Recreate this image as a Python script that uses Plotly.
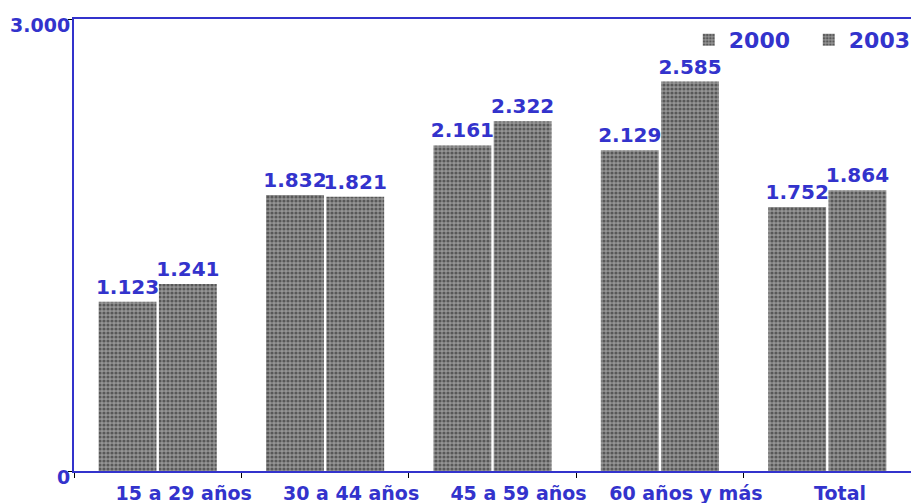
import plotly.graph_objects as go

categories = ["15 a 29 años", "30 a 44 años", "45 a 59 años", "60 años y más", "Total"]
values_2000 = [1123, 1832, 2161, 2129, 1752]
values_2003 = [1241, 1821, 2322, 2585, 1864]
labels_2000 = ["1.123", "1.832", "2.161", "2.129", "1.752"]
labels_2003 = ["1.241", "1.821", "2.322", "2.585", "1.864"]
tick_labels = ["15 a 29 años", "30 a 44 años", "45 a 59 años", "60 años y más",
               "Total&nbsp;&nbsp;&nbsp;&nbsp;"]

BLUE = "#3333CC"
FONT = "DejaVu Sans"

pattern = dict(shape=".", fgcolor="#1c1c1c", bgcolor="#959595", size=4, solidity=0.5)

fig = go.Figure()
for name, vals, labs in [("2000", values_2000, labels_2000), ("2003", values_2003, labels_2003)]:
    fig.add_bar(name=f"<b>{name}</b>", x=categories, y=vals, text=labs,
                texttemplate="<b>%{text}</b>", textposition="outside",
                constraintext="none",
                textfont=dict(family=FONT, size=20, color=BLUE),
                marker=dict(color="#959595", pattern=pattern, line=dict(width=0)),
                cliponaxis=False)

fig.update_layout(
    width=911, height=503,
    margin=dict(l=74, r=0, t=19, b=32, autoexpand=False),
    paper_bgcolor="white", plot_bgcolor="white",
    barmode="group", bargap=0.28, bargroupgap=0.04,
    font=dict(family=FONT, color=BLUE),
    showlegend=True,
    legend=dict(orientation="h", x=0.7345, y=0.9535, xanchor="left", yanchor="middle",
                font=dict(family=FONT, size=22, color=BLUE),
                entrywidth=75, itemwidth=30, bgcolor="rgba(0,0,0,0)"),
)
fig.update_xaxes(showline=True, linecolor=BLUE, linewidth=2, mirror=True,
                 tickson="boundaries", ticks="outside", ticklen=5, tickcolor="black",
                 tickangle=0, automargin=False,
                 tickvals=categories, ticktext=[f"<b>{c}</b>" for c in tick_labels],
                 ticklabelshift=26, ticklabelstandoff=4,
                 tickfont=dict(family=FONT, size=19, color=BLUE),
                 showgrid=False)
fig.update_yaxes(range=[0, 3000], tickvals=[0, 3000], ticktext=["<b>0</b>", "<b>3.000</b>"],
                 showline=True, linecolor=BLUE, linewidth=2, automargin=False,
                 ticks="outside", ticklen=4, tickcolor="black",
                 ticklabelstandoff=-6, ticklabelshift=6,
                 tickfont=dict(family=FONT, size=19, color=BLUE),
                 showgrid=False, zeroline=False)

# page body has a default 8px margin; drop it so the figure fills the window
fig.write_html("out.html", config={"displayModeBar": False},
               post_script="document.body.style.margin='0';")
